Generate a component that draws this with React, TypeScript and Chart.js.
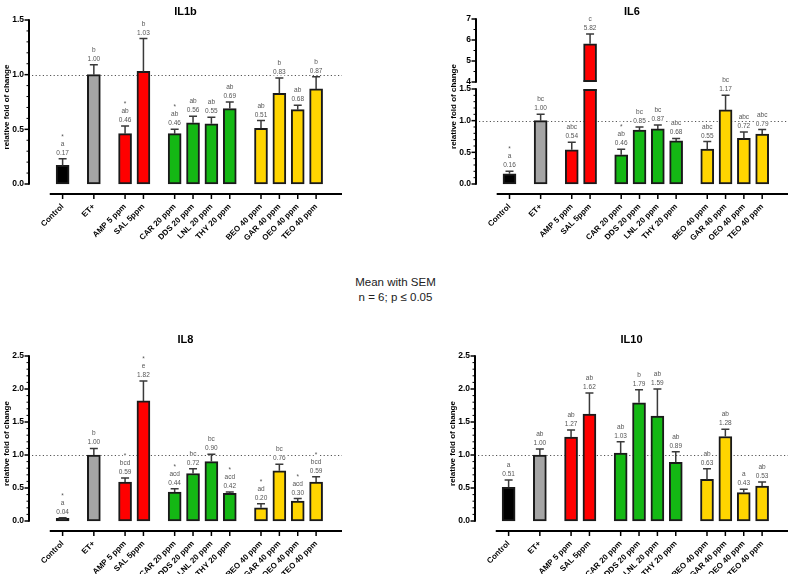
import React, { useEffect, useRef } from 'react';
import { Chart, LinearScale, registerables } from 'chart.js';

// ---------- data ----------
const categories = ['Control', 'ET+', 'AMP 5 ppm', 'SAL 5ppm', 'CAR 20 ppm', 'DDS 20 ppm', 'LNL 20 ppm', 'THY 20 ppm', 'BEO 40 ppm', 'GAR 40 ppm', 'OEO 40 ppm', 'TEO 40 ppm'];
const groupIndex = [0, 1, 2, 2, 3, 3, 3, 3, 4, 4, 4, 4];
const barColors = ['#000000', '#a5a5a5', '#ff0000', '#ff0000', '#14b814', '#14b814', '#14b814', '#14b814', '#ffd500', '#ffd500', '#ffd500', '#ffd500'];

const il1bMean = [0.17, 1.00, 0.46, 1.03, 0.46, 0.56, 0.55, 0.69, 0.51, 0.83, 0.68, 0.87];
const il1bSem = [0.06, 0.09, 0.07, 0.30, 0.04, 0.06, 0.06, 0.06, 0.07, 0.14, 0.04, 0.11];
const il1bLetters = ['a', 'b', 'ab', 'b', 'ab', 'ab', 'ab', 'ab', 'ab', 'b', 'ab', 'b'];
const il1bStars = [1, 0, 1, 0, 1, 0, 0, 0, 0, 0, 0, 0];
const il1bTicks = [0, 0.5, 1.0, 1.5];

const il6Mean = [0.16, 1.00, 0.54, 5.82, 0.46, 0.85, 0.87, 0.68, 0.55, 1.17, 0.72, 0.79];
const il6Sem = [0.04, 0.10, 0.12, 0.47, 0.09, 0.05, 0.06, 0.04, 0.12, 0.23, 0.10, 0.07];
const il6Letters = ['a', 'bc', 'abc', 'c', 'ab', 'bc', 'bc', 'abc', 'abc', 'bc', 'abc', 'abc'];
const il6Stars = [1, 0, 0, 0, 1, 0, 0, 0, 0, 0, 0, 0];
const il6Ticks = [0, 0.5, 1.0, 1.5, 4, 5, 6, 7];

const il8Mean = [0.04, 1.00, 0.59, 1.82, 0.44, 0.72, 0.90, 0.42, 0.20, 0.76, 0.30, 0.59];
const il8Sem = [0.01, 0.10, 0.06, 0.30, 0.05, 0.07, 0.11, 0.02, 0.06, 0.10, 0.04, 0.08];
const il8Letters = ['a', 'b', 'bcd', 'e', 'acd', 'bc', 'bc', 'acd', 'ad', 'bc', 'acd', 'bcd'];
const il8Stars = [1, 0, 1, 1, 1, 0, 0, 1, 1, 0, 1, 1];
const il8Ticks = [0, 0.5, 1.0, 1.5, 2.0, 2.5];

const il10Mean = [0.51, 1.00, 1.27, 1.62, 1.03, 1.79, 1.59, 0.89, 0.63, 1.28, 0.43, 0.53];
const il10Sem = [0.11, 0.09, 0.11, 0.32, 0.17, 0.20, 0.41, 0.16, 0.16, 0.11, 0.05, 0.06];
const il10Letters = ['a', 'ab', 'ab', 'ab', 'ab', 'b', 'ab', 'ab', 'ab', 'ab', 'a', 'ab'];
const il10Stars = [0, 0, 0, 0, 0, 0, 0, 0, 0, 0, 0, 0];
const il10Ticks = [0, 0.5, 1.0, 1.5, 2.0, 2.5];

// category positions derived from group structure (gap between groups)
const xPositions = categories.map((_, i) => i + groupIndex[i] * 0.7);

const FONT = "'Liberation Sans', Arial, Helvetica, sans-serif";

// ---------- broken-axis scale ----------
class BrokenScale extends LinearScale {
  static id = 'broken';
  static defaults = {};
  getPixelForValue(value: number) {
    const o: any = (this as any).options;
    const lowMax = o.lowMax, highMin = o.highMin, lowFrac = o.lowFrac, gapFrac = o.gapFrac;
    const min = (this as any).min, max = (this as any).max;
    let f: number;
    if (value <= lowMax) f = ((value - min) / (lowMax - min)) * lowFrac;
    else if (value >= highMin) f = lowFrac + gapFrac + ((value - highMin) / (max - highMin)) * (1 - lowFrac - gapFrac);
    else f = lowFrac + gapFrac * ((value - lowMax) / (highMin - lowMax));
    const top = (this as any).top, bottom = (this as any).bottom;
    return bottom - f * (bottom - top);
  }
  getValueForPixel(pixel: number) {
    const o: any = (this as any).options;
    const lowMax = o.lowMax, highMin = o.highMin, lowFrac = o.lowFrac, gapFrac = o.gapFrac;
    const min = (this as any).min, max = (this as any).max;
    const top = (this as any).top, bottom = (this as any).bottom;
    const f = (bottom - pixel) / (bottom - top);
    if (f <= lowFrac) return min + (f / lowFrac) * (lowMax - min);
    if (f >= lowFrac + gapFrac) return highMin + ((f - lowFrac - gapFrac) / (1 - lowFrac - gapFrac)) * (max - highMin);
    return lowMax + ((f - lowFrac) / gapFrac) * (highMin - lowMax);
  }
}

Chart.register(...registerables, BrokenScale as any);

type PanelCfg = {
  key: string;
  title: string;
  titleY: number;
  means: number[];
  sems: number[];
  letters: string[];
  stars: number[];
  yTicks: number[];
  segments: number[][];
  yMin: number;
  yMax: number;
  brk?: number[];
  w: number;
  h: number;
  left: number;
  top: number;
  padding: { left: number; right: number; top: number; bottom: number };
  xHeight: number;
};

function makeDecor(p: PanelCfg) {
  return {
    id: 'decor_' + p.key,
    beforeDatasetsDraw(chart: any) {
      const { ctx, chartArea, scales } = chart;
      const py = Math.round(scales.y.getPixelForValue(1)) + 0.5;
      ctx.save();
      ctx.strokeStyle = '#555';
      ctx.lineWidth = 1;
      ctx.setLineDash([1.2, 2.4]);
      ctx.beginPath();
      ctx.moveTo(chartArea.left + 3, py);
      ctx.lineTo(chartArea.right, py);
      ctx.stroke();
      ctx.restore();
    },
    afterDatasetsDraw(chart: any) {
      const { ctx, chartArea, scales } = chart;
      const x = scales.x, y = scales.y;
      const meta = chart.getDatasetMeta(0);
      ctx.save();
      // axis break
      if (p.brk) {
        const yTop = y.getPixelForValue(p.brk[1]);
        const yBot = y.getPixelForValue(p.brk[0]);
        ctx.fillStyle = '#fff';
        ctx.fillRect(chartArea.left + 2, yTop, chartArea.right - chartArea.left, yBot - yTop);
        meta.data.forEach((bar: any, i: number) => {
          if (p.means[i] > p.brk![1]) {
            const w = bar.width;
            ctx.fillStyle = '#1a1a1a';
            ctx.fillRect(bar.x - w / 2, yTop - 2, w, 2);
            ctx.fillRect(bar.x - w / 2, yBot, w, 2);
          }
        });
      }
      // error bars
      ctx.strokeStyle = '#3a3a3a';
      ctx.lineWidth = 1.5;
      meta.data.forEach((bar: any, i: number) => {
        const yb = y.getPixelForValue(p.means[i]);
        const yt = y.getPixelForValue(p.means[i] + p.sems[i]);
        ctx.beginPath();
        ctx.moveTo(bar.x, yb);
        ctx.lineTo(bar.x, yt);
        ctx.moveTo(bar.x - 4, yt);
        ctx.lineTo(bar.x + 4, yt);
        ctx.stroke();
      });
      // annotations
      ctx.font = `6.5px ${FONT}`;
      ctx.textAlign = 'center';
      ctx.textBaseline = 'alphabetic';
      meta.data.forEach((bar: any, i: number) => {
        const yt = y.getPixelForValue(p.means[i] + p.sems[i]);
        const lines = [p.means[i].toFixed(2), p.letters[i]];
        if (p.stars[i]) lines.push('*');
        let base = yt - 4;
        lines.forEach((t) => {
          const w = ctx.measureText(t).width;
          ctx.fillStyle = '#fff';
          ctx.fillRect(bar.x - w / 2 - 1, base - 5.5, w + 2, 7);
          ctx.fillStyle = '#555';
          ctx.fillText(t, bar.x, base + (t === '*' ? 2 : 0));
          base -= 9;
        });
      });
      // y axis
      ctx.strokeStyle = '#000';
      const ax = chartArea.left;
      p.segments.forEach(([a, b, step]) => {
        ctx.lineWidth = 2;
        ctx.beginPath();
        ctx.moveTo(ax, y.getPixelForValue(a) + 0.75);
        ctx.lineTo(ax, y.getPixelForValue(b) - 0.75);
        ctx.stroke();
        const n = Math.round((b - a) / step);
        for (let k = 0; k <= n; k++) {
          const v = a + k * step;
          const major = p.yTicks.some((t) => Math.abs(t - v) < 1e-6);
          const py = y.getPixelForValue(v);
          ctx.lineWidth = major ? 1.5 : 1;
          ctx.beginPath();
          ctx.moveTo(ax - (major ? 4.5 : 2.5), py);
          ctx.lineTo(ax, py);
          ctx.stroke();
        }
      });
      // x axis
      const bx = chartArea.bottom;
      ctx.lineWidth = 2;
      ctx.beginPath();
      ctx.moveTo(x.getPixelForValue(-0.7), bx);
      ctx.lineTo(chartArea.right, bx);
      ctx.stroke();
      ctx.lineWidth = 1.5;
      xPositions.forEach((v) => {
        const px = x.getPixelForValue(v);
        ctx.beginPath();
        ctx.moveTo(px, bx);
        ctx.lineTo(px, bx + 5);
        ctx.stroke();
      });
      // title
      ctx.fillStyle = '#000';
      ctx.font = `bold 11px ${FONT}`;
      ctx.textAlign = 'center';
      ctx.textBaseline = 'middle';
      ctx.fillText(p.title, (chartArea.left + chartArea.right) / 2, p.titleY);
      ctx.restore();
    },
  };
}

function buildConfig(p: PanelCfg): any {
  const data = p.means.map((v, i) => ({ x: xPositions[i], y: v }));
  const yScale: any = {
    type: p.brk ? 'broken' : 'linear',
    min: p.yMin,
    max: p.yMax,
    grid: { display: false, drawTicks: false },
    border: { display: false },
    afterBuildTicks: (s: any) => {
      s.ticks = p.yTicks.map((v) => ({ value: v }));
    },
    afterFit: (s: any) => {
      s.width = 29;
    },
    ticks: {
      autoSkip: false,
      padding: 5,
      color: '#000',
      font: { family: FONT, size: 8.5, weight: 'bold' },
      callback: (v: number) => (v >= 4 ? String(v) : Number(v).toFixed(1)),
    },
    title: {
      display: true,
      text: 'relative fold of change',
      color: '#000',
      font: { family: FONT, size: 8, weight: 'bold' },
      padding: { top: 2, bottom: 0 },
    },
  };
  if (p.brk) {
    yScale.lowMax = p.brk[0];
    yScale.highMin = p.brk[1];
    yScale.lowFrac = 0.6;
    yScale.gapFrac = 0.04;
  }
  return {
    type: 'bar',
    data: {
      datasets: [
        {
          data,
          backgroundColor: barColors,
          borderColor: '#1a1a1a',
          borderWidth: 2,
          borderSkipped: false,
          barThickness: 13,
        },
      ],
    },
    options: {
      responsive: false,
      animation: false,
      layout: { padding: p.padding },
      plugins: { legend: { display: false }, tooltip: { enabled: false } },
      scales: {
        x: {
          type: 'linear',
          min: -1.12,
          max: 14.5,
          grid: { display: false, drawTicks: false },
          border: { display: false },
          afterBuildTicks: (s: any) => {
            s.ticks = xPositions.map((v) => ({ value: v }));
          },
          afterFit: (s: any) => {
            s.height = p.xHeight;
          },
          ticks: {
            autoSkip: false,
            minRotation: 45,
            maxRotation: 45,
            padding: 8,
            color: '#000',
            font: { family: FONT, size: 8, weight: 'bold' },
            callback: (_v: any, i: number) => categories[i],
          },
        },
        y: yScale,
      },
    },
    plugins: [makeDecor(p)],
  };
}

const panels: PanelCfg[] = [
  {
    key: 'il1b', title: 'IL1b', titleY: 12, means: il1bMean, sems: il1bSem, letters: il1bLetters, stars: il1bStars,
    yTicks: il1bTicks, segments: [[0, 1.5, 0.1]], yMin: -0.0915, yMax: 1.5,
    w: 395, h: 265, left: 0, top: 0, padding: { left: 0, right: 53, top: 20, bottom: 0 }, xHeight: 71,
  },
  {
    key: 'il6', title: 'IL6', titleY: 12, means: il6Mean, sems: il6Sem, letters: il6Letters, stars: il6Stars,
    yTicks: il6Ticks, segments: [[0, 1.5, 0.1], [4, 7, 0.5]], yMin: -0.158, yMax: 7, brk: [1.5, 4],
    w: 396, h: 265, left: 395, top: 0, padding: { left: 52, right: 3, top: 19, bottom: 0 }, xHeight: 71,
  },
  {
    key: 'il8', title: 'IL8', titleY: 10, means: il8Mean, sems: il8Sem, letters: il8Letters, stars: il8Stars,
    yTicks: il8Ticks, segments: [[0, 2.5, 0.1]], yMin: -0.1515, yMax: 2.5,
    w: 395, h: 244, left: 0, top: 330, padding: { left: 0, right: 53, top: 26, bottom: 0 }, xHeight: 43,
  },
  {
    key: 'il10', title: 'IL10', titleY: 10, means: il10Mean, sems: il10Sem, letters: il10Letters, stars: il10Stars,
    yTicks: il10Ticks, segments: [[0, 2.5, 0.1]], yMin: -0.1515, yMax: 2.5,
    w: 396, h: 244, left: 395, top: 330, padding: { left: 51, right: 3, top: 26, bottom: 0 }, xHeight: 43,
  },
];

function Panel({ cfg }: { cfg: PanelCfg }) {
  const ref = useRef<HTMLCanvasElement | null>(null);
  useEffect(() => {
    const chart = new Chart(ref.current as HTMLCanvasElement, buildConfig(cfg));
    return () => chart.destroy();
  }, [cfg]);
  return (
    <div style={{ position: 'absolute', left: cfg.left, top: cfg.top, width: cfg.w, height: cfg.h }}>
      <canvas ref={ref} width={cfg.w} height={cfg.h} style={{ width: cfg.w, height: cfg.h, display: 'block' }} />
    </div>
  );
}

export default function App() {
  return (
    <div style={{ position: 'fixed', left: 0, top: 0, width: 791, height: 574, background: '#fff', overflow: 'hidden' }}>
      {panels.map((p) => (
        <Panel key={p.key} cfg={p} />
      ))}
      <div
        style={{
          position: 'absolute',
          left: 0,
          width: 791,
          top: 275,
          textAlign: 'center',
          fontFamily: FONT,
          fontSize: 11.5,
          lineHeight: '15px',
          color: '#222',
        }}
      >
        <div>Mean with SEM</div>
        <div>n = 6; p ≤ 0.05</div>
      </div>
    </div>
  );
}
